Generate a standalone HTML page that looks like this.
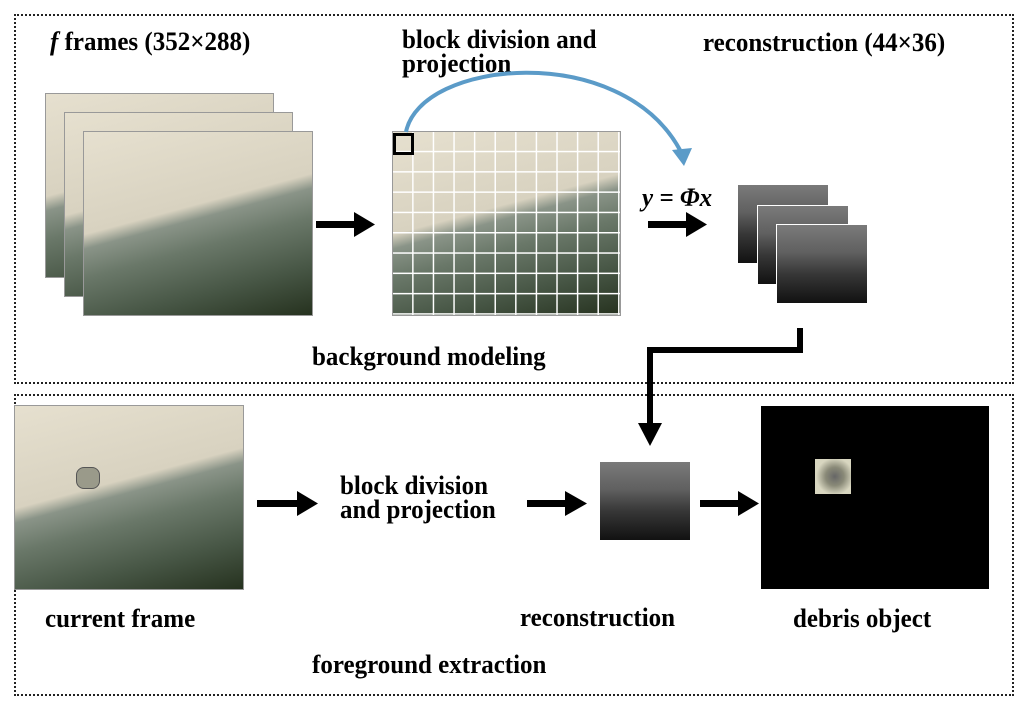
<!DOCTYPE html>
<html><head><style>
body{margin:0;background:#fff;width:1024px;height:709px;position:relative;overflow:hidden;font-family:"Liberation Serif",serif;font-weight:bold}
.t{position:absolute;font-size:25px;color:#000;white-space:nowrap;line-height:23px;transform:scaleY(1.05);transform-origin:0 0}
.box{position:absolute;border:2px dotted #222}
.wave{position:absolute;background:linear-gradient(165deg,#e6e0cf 0%,#d8d2c0 42%,#8a9488 48%,#6a7869 60%,#475645 80%,#26321f 100%);border:1px solid #999}
.rec{position:absolute;background:linear-gradient(180deg,#7a7a7a 0%,#606060 35%,#383838 62%,#111 100%)}
</style></head><body>
<div class="box" style="left:14px;top:14px;width:996px;height:366px"></div>
<div class="box" style="left:14px;top:394px;width:996px;height:298px"></div>

<div class="t" style="left:50px;top:30px"><i>f</i> frames (352×288)</div>
<div class="t" style="left:402px;top:28px">block division and<br>projection</div>
<div class="t" style="left:703px;top:31px">reconstruction (44×36)</div>
<div class="t" style="left:312px;top:345px">background modeling</div>
<div class="t" style="left:45px;top:607px">current frame</div>
<div class="t" style="left:520px;top:606px">reconstruction</div>
<div class="t" style="left:793px;top:607px">debris object</div>
<div class="t" style="left:312px;top:653px">foreground extraction</div>
<div class="t" style="left:340px;top:474px">block division<br>and projection</div>
<div class="t" style="left:642px;top:186px;font-style:italic">y = Φx</div>

<div class="wave" style="left:45px;top:93px;width:227px;height:183px"></div>
<div class="wave" style="left:64px;top:112px;width:227px;height:183px"></div>
<div class="wave" style="left:83px;top:131px;width:228px;height:183px"></div>
<div class="wave" style="left:392px;top:131px;width:227px;height:183px;background-image:linear-gradient(90deg,transparent 19px,#fff 19px,#fff 21px,transparent 21px),linear-gradient(180deg,transparent 19px,#fff 19px,#fff 21px,transparent 21px),linear-gradient(165deg,#e6e0cf 0%,#d8d2c0 42%,#8a9488 48%,#6a7869 60%,#475645 80%,#26321f 100%);background-size:20.6px 20.3px,20.6px 20.3px,100% 100%"></div>
<div style="position:absolute;left:393px;top:133px;width:15px;height:16px;border:3px solid #000"></div>

<div class="rec" style="left:738px;top:185px;width:90px;height:78px"></div>
<div class="rec" style="left:757px;top:205px;width:90px;height:78px;border:1px solid #fff"></div>
<div class="rec" style="left:776px;top:224px;width:90px;height:78px;border:1px solid #fff"></div>

<div class="wave" style="left:14px;top:405px;width:228px;height:183px"></div>
<div style="position:absolute;left:76px;top:467px;width:22px;height:20px;border-radius:8px;background:#9a9a8a;border:1px solid #555"></div>
<div class="rec" style="left:600px;top:462px;width:90px;height:78px"></div>
<div style="position:absolute;left:761px;top:406px;width:228px;height:183px;background:#000"></div>
<div style="position:absolute;left:815px;top:459px;width:36px;height:35px;background:radial-gradient(circle at 55% 50%,#666 0,#8a8a78 35%,#d8d6c0 70%)"></div>

<svg width="1024" height="709" style="position:absolute;left:0;top:0">
<path d="M406,132 C420,60 620,40 680,150" fill="none" stroke="#5b9bc8" stroke-width="4"/>
<polygon points="672,150 692,148 684,166" fill="#5b9bc8"/>
<g fill="#000">
<rect x="316" y="221" width="40" height="7"/><polygon points="354,212 375,224.5 354,237"/>
<rect x="648" y="221" width="40" height="7"/><polygon points="686,212 707,224.5 686,237"/>
<rect x="257" y="500" width="42" height="7"/><polygon points="297,491 318,503.5 297,516"/>
<rect x="527" y="500" width="40" height="7"/><polygon points="565,491 587,503.5 565,516"/>
<rect x="700" y="500" width="40" height="7"/><polygon points="738,491 759,503.5 738,516"/>
</g>
<path d="M800,328 V350 H650 V425" fill="none" stroke="#000" stroke-width="6"/>
<polygon points="638,423 662,423 650,446" fill="#000"/>
</svg>
</body></html>
